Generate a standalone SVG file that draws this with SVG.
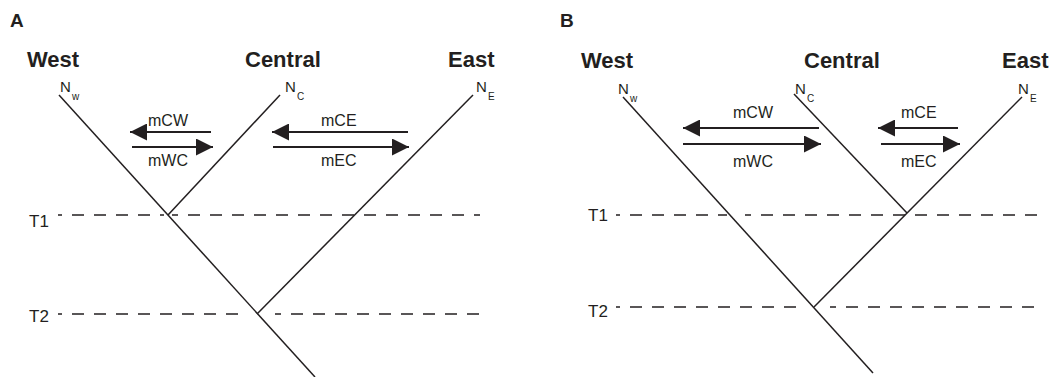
<svg xmlns="http://www.w3.org/2000/svg" width="1060" height="377" viewBox="0 0 1060 377">
  <style>
    .panel { font-family: "Liberation Sans", Arial, sans-serif; font-weight: bold; font-size: 19px; fill: #231f20; }
    .head { font-family: "Liberation Sans", Arial, sans-serif; font-weight: bold; font-size: 22px; fill: #231f20; }
    .pop { font-family: "Liberation Sans", Arial, sans-serif; font-size: 15px; fill: #231f20; }
    .sub { font-family: "Liberation Sans", Arial, sans-serif; font-size: 10px; fill: #231f20; }
    .lab { font-family: "Liberation Sans", Arial, sans-serif; font-size: 16px; fill: #231f20; }
    .time { font-family: "Liberation Sans", Arial, sans-serif; font-size: 17px; fill: #231f20; }
    .branch { stroke: #231f20; stroke-width: 1.5; fill: none; }
    .dash { stroke: #231f20; stroke-width: 1.6; fill: none; stroke-dasharray: 12 10; }
    .flow { stroke: #231f20; stroke-width: 2; fill: none; marker-end: url(#head); }
  </style>
  <defs>
    <marker id="head" markerUnits="userSpaceOnUse" markerWidth="17" markerHeight="17" viewBox="0 0 16 16" refX="16" refY="8" orient="auto">
      <path d="M0,0 L16,8 L0,16 Z" fill="#231f20"/>
    </marker>
  </defs>

  <!-- Panel A -->
  <g id="panelA">
    <text class="panel" x="10" y="27">A</text>
    <text class="head" x="27" y="67">West</text>
    <text class="head" x="245" y="67">Central</text>
    <text class="head" x="448" y="67">East</text>

    <g id="A-Nw"><text class="pop" x="60" y="92">N</text><text class="sub" x="72" y="100">w</text></g>
    <g id="A-Nc"><text class="pop" x="285" y="92">N</text><text class="sub" x="297" y="100">C</text></g>
    <g id="A-Ne"><text class="pop" x="476" y="92">N</text><text class="sub" x="488" y="100">E</text></g>

    <g id="A-times">
      <text class="time" x="29" y="227">T1</text>
      <text class="time" x="29" y="322">T2</text>
      <line class="dash" x1="58" y1="215" x2="164" y2="215" stroke-dashoffset="8"/>
      <line class="dash" x1="172" y1="215" x2="480" y2="215" stroke-dashoffset="6"/>
      <line class="dash" x1="58" y1="314" x2="241" y2="314" stroke-dashoffset="8"/>
      <line class="dash" x1="275" y1="314" x2="480" y2="314" stroke-dashoffset="6"/>
    </g>

    <g id="A-tree">
      <line class="branch" x1="59" y1="95" x2="315" y2="377"/>
      <line class="branch" x1="280" y1="95" x2="168" y2="215"/>
      <line class="branch" x1="473" y1="95" x2="257" y2="314"/>
    </g>

    <g id="A-migration">
      <line class="flow" x1="211" y1="132" x2="130" y2="132"/>
      <line class="flow" x1="132" y1="147" x2="213" y2="147"/>
      <line class="flow" x1="408" y1="132" x2="272" y2="132"/>
      <line class="flow" x1="273" y1="147" x2="409" y2="147"/>
      <text class="lab" x="148" y="126">mCW</text>
      <text class="lab" x="148" y="166">mWC</text>
      <text class="lab" x="321" y="126">mCE</text>
      <text class="lab" x="321" y="166">mEC</text>
    </g>
  </g>

  <!-- Panel B -->
  <g id="panelB">
    <text class="panel" x="560" y="27">B</text>
    <text class="head" x="581" y="68">West</text>
    <text class="head" x="804" y="68">Central</text>
    <text class="head" x="1002" y="68">East</text>

    <g id="B-Nw"><text class="pop" x="618" y="94">N</text><text class="sub" x="630" y="102">w</text></g>
    <g id="B-Nc"><text class="pop" x="795" y="94">N</text><text class="sub" x="807" y="102">C</text></g>
    <g id="B-Ne"><text class="pop" x="1018" y="94">N</text><text class="sub" x="1030" y="102">E</text></g>

    <g id="B-times">
      <text class="time" x="588" y="221">T1</text>
      <text class="time" x="588" y="317">T2</text>
      <line class="dash" x1="616" y1="215" x2="727" y2="215" stroke-dashoffset="8"/>
      <line class="dash" x1="745" y1="215" x2="1037" y2="215" stroke-dashoffset="6"/>
      <line class="dash" x1="616" y1="307" x2="799" y2="307" stroke-dashoffset="8"/>
      <line class="dash" x1="830" y1="307" x2="1037" y2="307" stroke-dashoffset="6"/>
    </g>

    <g id="B-tree">
      <line class="branch" x1="623" y1="97" x2="873" y2="373"/>
      <line class="branch" x1="794" y1="94" x2="907" y2="213"/>
      <line class="branch" x1="1022" y1="97" x2="814" y2="307"/>
    </g>

    <g id="B-migration">
      <line class="flow" x1="819" y1="128" x2="683" y2="128"/>
      <line class="flow" x1="683" y1="144" x2="821" y2="144"/>
      <line class="flow" x1="958" y1="128" x2="878" y2="128"/>
      <line class="flow" x1="881" y1="144" x2="960" y2="144"/>
      <text class="lab" x="733" y="118">mCW</text>
      <text class="lab" x="733" y="167">mWC</text>
      <text class="lab" x="901" y="118">mCE</text>
      <text class="lab" x="901" y="167">mEC</text>
    </g>
  </g>
</svg>
